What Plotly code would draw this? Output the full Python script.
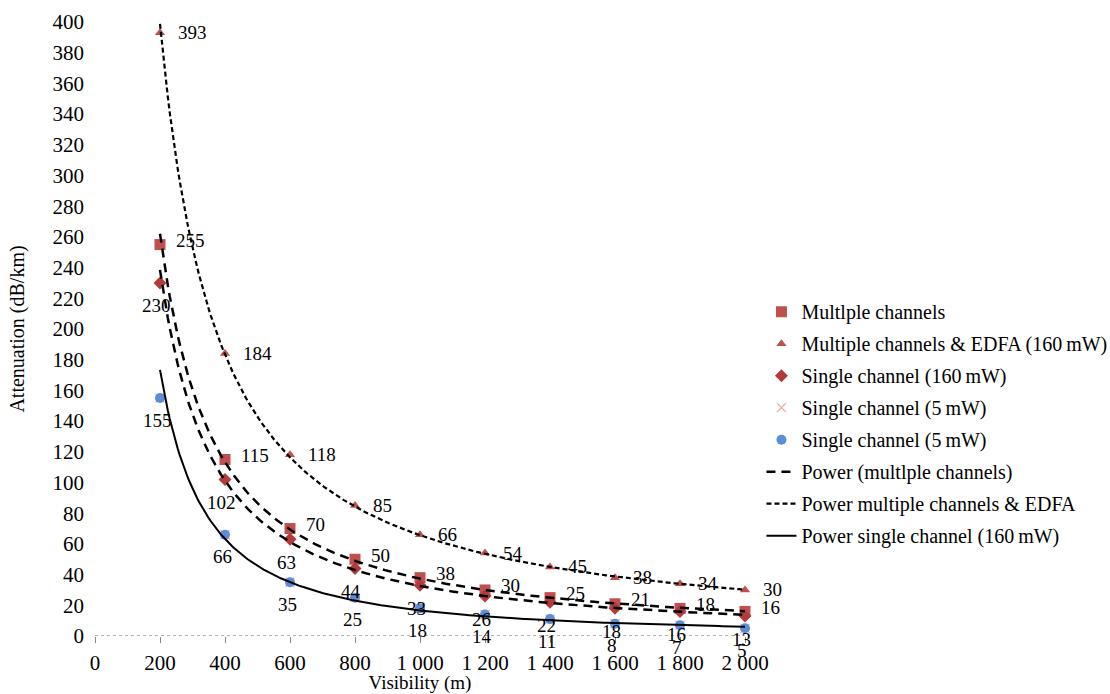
import numpy as np
import plotly.graph_objects as go

# ---- data ----
visibility = [200, 400, 600, 800, 1000, 1200, 1400, 1600, 1800, 2000]
multiple_channels = [255, 115, 70, 50, 38, 30, 25, 21, 18, 16]
multiple_edfa = [393, 184, 118, 85, 66, 54, 45, 38, 34, 30]
single_160 = [230, 102, 63, 44, 33, 26, 22, 18, 16, 13]
single_5 = [155, 66, 35, 25, 18, 14, 11, 8, 7, 5]

x_tick_vals = [0, 200, 400, 600, 800, 1000, 1200, 1400, 1600, 1800, 2000]
x_tick_text = ["0", "200", "400", "600", "800", "1 000", "1 200", "1 400", "1 600", "1 800", "2 000"]
y_tick_vals = list(range(0, 401, 20))

SERIF = "Liberation Serif, Times New Roman, serif"
RED = "#C0504D"
DARKRED = "#B23A3A"
PINK = "#E8A5A5"
BLUE = "#5B8ED6"


def power_fit(x, y, n=300):
    x = np.asarray(x, float)
    y = np.asarray(y, float)
    b, loga = np.polyfit(np.log(x), np.log(y), 1)
    xs = np.linspace(x.min(), x.max(), n)
    return xs, np.exp(loga) * xs ** b


fig = go.Figure()

fig.add_trace(go.Scatter(
    x=visibility, y=multiple_channels, mode="markers", name="Multlple channels",
    marker=dict(symbol="square", size=11, color=RED),
    legendgroup="a", cliponaxis=False))
fig.add_trace(go.Scatter(
    x=visibility, y=multiple_edfa, mode="markers",
    name="Multiple channels &amp; EDFA (160\u2009mW)",
    marker=dict(symbol="triangle-up", size=9, color=RED),
    legendgroup="b", cliponaxis=False))
fig.add_trace(go.Scatter(
    x=visibility, y=single_160, mode="markers", name="Single channel (160\u2009mW)",
    marker=dict(symbol="diamond", size=10, color=DARKRED),
    legendgroup="c", cliponaxis=False))
fig.add_trace(go.Scatter(
    x=visibility, y=single_5, mode="markers", name="Single channel (5\u2009mW)",
    marker=dict(symbol="x-thin", size=9, line=dict(color=PINK, width=1.2), color=PINK),
    legendgroup="d", cliponaxis=False))
fig.add_trace(go.Scatter(
    x=visibility, y=single_5, mode="markers", name="Single channel (5\u2009mW)",
    marker=dict(symbol="circle", size=10, color=BLUE),
    legendgroup="e", cliponaxis=False))

xs, ys = power_fit(visibility, multiple_channels)
fig.add_trace(go.Scatter(x=xs, y=ys, mode="lines", name="Power (multlple channels)",
                         line=dict(color="black", width=2.5, dash="9px,6px"),
                         legendgroup="f", cliponaxis=False))
xs, ys = power_fit(visibility, multiple_edfa)
fig.add_trace(go.Scatter(x=xs, y=ys, mode="lines", name="Power multiple channels &amp; EDFA",
                         line=dict(color="black", width=2.2, dash="5px,3px"),
                         legendgroup="g", cliponaxis=False))
xs, ys = power_fit(visibility, single_5)
fig.add_trace(go.Scatter(x=xs, y=ys, mode="lines", name="Power single channel (160\u2009mW)",
                         line=dict(color="black", width=2),
                         legendgroup="h", cliponaxis=False))
xs, ys = power_fit(visibility, single_160)
fig.add_trace(go.Scatter(x=xs, y=ys, mode="lines", showlegend=False,
                         line=dict(color="black", width=2.5, dash="9px,6px"),
                         cliponaxis=False))

# data labels
lab_font = dict(family=SERIF, size=19, color="black")
annotations = []
for xv, yv in zip(visibility, multiple_channels):
    annotations.append(dict(x=xv, y=yv, text=str(yv), showarrow=False, xanchor="left",
                            xshift=14, yshift=4, font=lab_font))
for xv, yv in zip(visibility, multiple_edfa):
    annotations.append(dict(x=xv, y=yv, text=str(yv), showarrow=False, xanchor="left",
                            xshift=16, yshift=0, font=lab_font))
for xv, yv in zip(visibility, single_160):
    annotations.append(dict(x=xv, y=yv, text=str(yv), showarrow=False, xanchor="center",
                            xshift=-4, yshift=-23, font=lab_font))
for xv, yv in zip(visibility, single_5):
    annotations.append(dict(x=xv, y=yv, text=str(yv), showarrow=False, xanchor="center",
                            xshift=-3, yshift=-22, font=lab_font))

fig.add_shape(type="line", xref="paper", yref="y", x0=0, x1=1, y0=0, y1=0,
              line=dict(color="#999999", width=1.5, dash="dot"), layer="below")

fig.update_layout(
    width=1110, height=694,
    margin=dict(l=95, r=365, t=22, b=58, autoexpand=False),
    paper_bgcolor="white", plot_bgcolor="white",
    font=dict(family=SERIF, size=19, color="black"),
    showlegend=True,
    annotations=annotations,
    legend=dict(x=0.686, y=0.579, xref="container", yref="container",
                xanchor="left", yanchor="top",
                font=dict(family=SERIF, size=20, color="black"),
                traceorder="grouped", tracegroupgap=3,
                bgcolor="rgba(0,0,0,0)"),
    xaxis=dict(range=[0, 2000], tickvals=x_tick_vals, ticktext=x_tick_text,
               showgrid=False, zeroline=False, showline=False, automargin=False,
               ticks="outside", ticklen=6, tickcolor="#888888",
               ticklabelstandoff=2,
               tickfont=dict(family=SERIF, size=21),
               title=dict(text="Visibility (m)", font=dict(family=SERIF, size=19), standoff=15)),
    yaxis=dict(range=[0, 400], tickvals=y_tick_vals,
               showgrid=False, zeroline=False, showline=False, automargin=False,
               ticks="", ticklabelstandoff=10,
               tickfont=dict(family=SERIF, size=21),
               title=dict(text="Attenuation (dB/km)", font=dict(family=SERIF, size=20), standoff=22)),
)

fig.write_html("out.html")
